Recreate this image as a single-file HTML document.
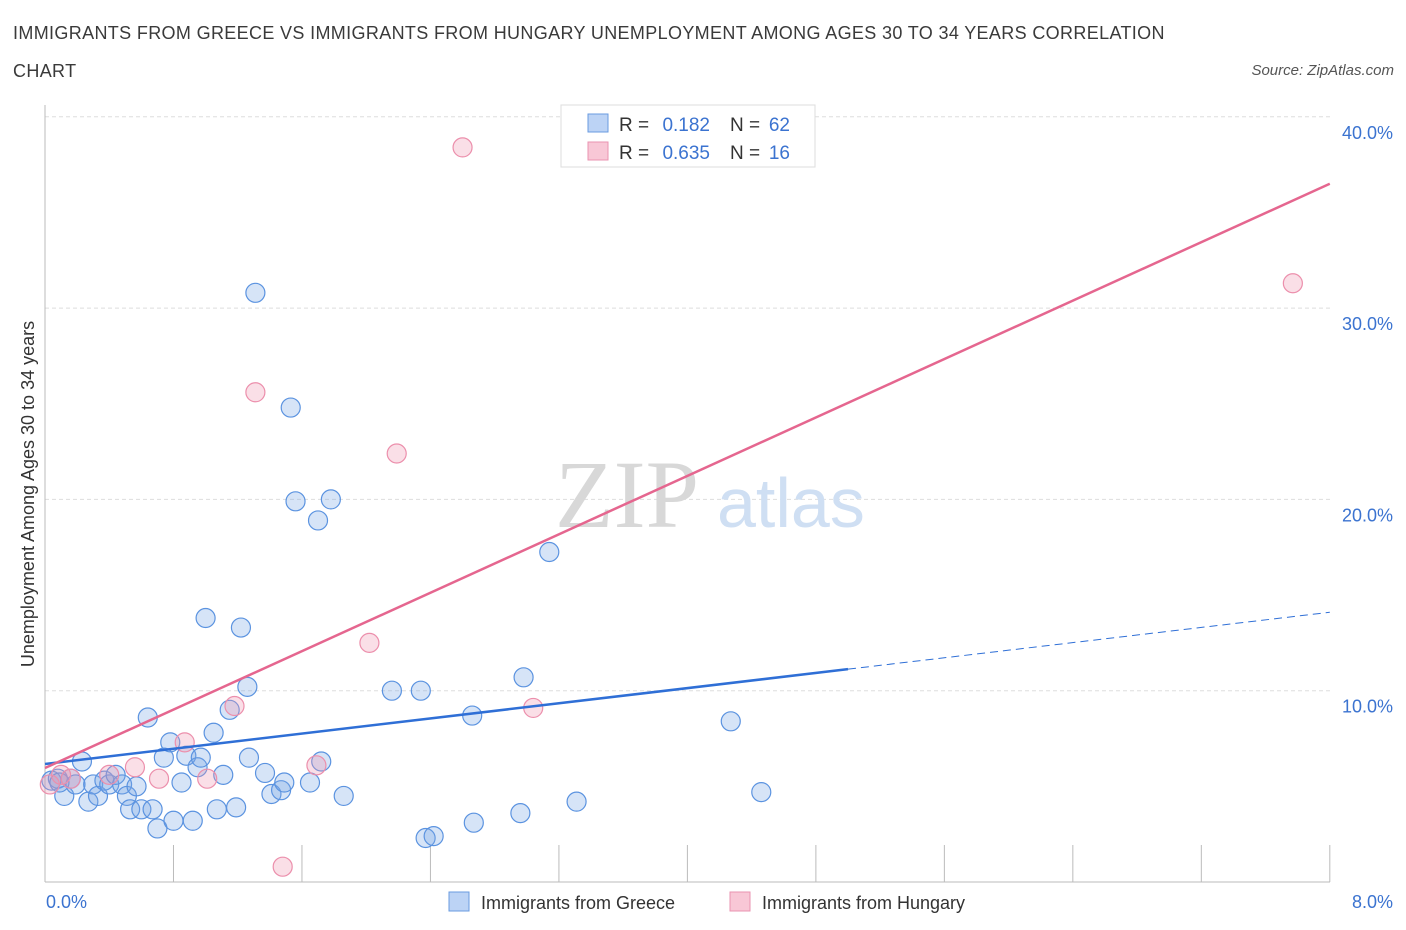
<!DOCTYPE html>
<html><head><meta charset="utf-8"><style>
body{margin:0;background:#fff;font-family:"Liberation Sans",sans-serif}
#wrap{position:relative;width:1406px;height:930px}
.t{position:absolute;color:#333}
</style></head><body>
<div id="wrap">
<div class="t" style="left:13px;top:14px;font-size:18px;line-height:38px;color:#3a3a3a;letter-spacing:0.35px">IMMIGRANTS FROM GREECE VS IMMIGRANTS FROM HUNGARY UNEMPLOYMENT AMONG AGES 30 TO 34 YEARS CORRELATION<br>CHART</div>
<div class="t" style="right:12px;top:62px;font-size:15px;font-style:italic;color:#555">Source: ZipAtlas.com</div>
<svg id="svg" width="1406" height="930" style="position:absolute;left:0;top:0"></svg>
</div>
<script>
const blueX=[0.04,0.08,0.12,0.16,0.19,0.23,0.27,0.3,0.33,0.37,0.4,0.44,0.48,0.51,0.53,0.57,0.6,0.64,0.67,0.7,0.74,0.78,0.8,0.85,0.88,0.92,0.95,0.97,1.0,1.05,1.07,1.11,1.15,1.19,1.22,1.26,1.27,1.31,1.37,1.41,1.47,1.49,1.53,1.56,1.65,1.7,1.72,1.78,1.86,2.16,2.34,2.37,2.42,2.66,2.67,2.96,2.98,3.14,3.31,4.27,4.46,0.09];
const blueY=[5.3,5.4,4.5,5.4,5.1,6.3,4.2,5.1,4.5,5.3,5.1,5.6,5.1,4.5,3.8,5.0,3.8,8.6,3.8,2.8,6.5,7.3,3.2,5.2,6.6,3.2,6.0,6.5,13.8,7.8,3.8,5.6,9.0,3.9,13.3,10.2,6.5,30.8,5.7,4.6,4.8,5.2,24.8,19.9,5.2,18.9,6.3,20.0,4.5,10.0,10.0,2.3,2.4,8.7,3.1,3.6,10.7,17.25,4.2,8.4,4.7,5.2];
const pinkX=[0.03,0.1,0.16,0.4,0.56,0.71,0.87,1.01,1.18,1.31,1.48,1.69,2.02,2.19,2.6,3.04,7.77];
const pinkY=[5.1,5.6,5.4,5.6,6.0,5.4,7.3,5.4,9.2,25.6,0.8,6.1,12.5,22.4,38.4,9.1,31.3];
const xTicks=[0,0.8,1.6,2.4,3.2,4.0,4.8,5.6,6.4,7.2,8.0];
const yTicks=[10,20,30,40];
const blueTrend=[6.17,14.1], pinkTrend=[5.96,36.5], blueSolidEnd=5.0;
const X=v=>45+v*160.6, Y=v=>882-v*19.13;
const svg=document.getElementById('svg'),NS='http://www.w3.org/2000/svg';
function mk(tag,a,name){const e=document.createElementNS(NS,tag);for(const k in a)e.setAttribute(k,a[k]);


svg.appendChild(e);return e;}
yTicks.forEach(v=>{mk('line',{x1:45,x2:1330,y1:Y(v),y2:Y(v),stroke:'#ddd','stroke-dasharray':'4,3'},'gridline');
const t=mk('text',{x:1393,y:Y(v)+22,'text-anchor':'end','font-size':18,fill:'#3b73d0'},'y-tick-label');t.textContent=v.toFixed(1)+'%';});
mk('line',{x1:45,x2:45,y1:105,y2:882,stroke:'#bbb'},'y-axis');
mk('line',{x1:45,x2:1330,y1:882,y2:882,stroke:'#bbb'},'x-axis');
xTicks.forEach(v=>mk('line',{x1:X(v),x2:X(v),y1:845,y2:882,stroke:'#bbb'},'x-tick'));
let t=mk('text',{x:46,y:908,'font-size':18,fill:'#3b73d0'},'x-min-label');t.textContent='0.0%';
t=mk('text',{x:1393,y:908,'text-anchor':'end','font-size':18,fill:'#3b73d0'},'x-max-label');t.textContent='8.0%';
t=mk('text',{x:0,y:0,'font-size':18,fill:'#333',transform:'translate(34,494) rotate(-90)','text-anchor':'middle'},'y-axis-title');t.textContent='Unemployment Among Ages 30 to 34 years';
t=mk('text',{x:555,y:527,'font-size':96,fill:'#d8d8d8','font-family':'Liberation Serif'},'watermark-zip');t.textContent='ZIP';
t=mk('text',{x:717,y:527,'font-size':70,fill:'#cfdff3'},'watermark-atlas');t.textContent='atlas';
blueX.forEach((x,i)=>mk('circle',{cx:X(x),cy:Y(blueY[i]),r:9.5,fill:'rgba(120,165,230,0.3)',stroke:'#5b93e0','stroke-width':1.2},'greece-point'));
pinkX.forEach((x,i)=>mk('circle',{cx:X(x),cy:Y(pinkY[i]),r:9.5,fill:'rgba(240,150,175,0.3)',stroke:'#ec8fac','stroke-width':1.2},'hungary-point'));
const bAt=v=>blueTrend[0]+(blueTrend[1]-blueTrend[0])*v/8;
mk('line',{x1:X(0),y1:Y(bAt(0)),x2:X(blueSolidEnd),y2:Y(bAt(blueSolidEnd)),stroke:'#2f6fd6','stroke-width':2.5},'greece-trendline');
mk('line',{x1:X(blueSolidEnd),y1:Y(bAt(blueSolidEnd)),x2:X(8),y2:Y(bAt(8)),stroke:'#2f6fd6','stroke-width':1,'stroke-dasharray':'8,5'},'greece-trendline-extension');
mk('line',{x1:X(0),y1:Y(pinkTrend[0]),x2:X(8),y2:Y(pinkTrend[1]),stroke:'#e5668f','stroke-width':2.5},'hungary-trendline');
mk('rect',{x:561,y:105,width:254,height:62,fill:'#fff',stroke:'#ddd'},'stats-legend');
mk('rect',{x:588,y:114,width:20,height:18,fill:'#bcd3f5',stroke:'#6a9be0'},'greece-swatch');
mk('rect',{x:588,y:142,width:20,height:18,fill:'#f8c7d6',stroke:'#ea93b0'},'hungary-swatch');
[[131,'0.182','62'],[159,'0.635','16']].forEach(r=>{
let e=mk('text',{x:619,y:r[0],'font-size':19,fill:'#333'},'stat-r-label');e.textContent='R = ';
e=mk('text',{x:710,y:r[0],'font-size':19,fill:'#3b73d0','text-anchor':'end'},'stat-r-value');e.textContent=r[1];
e=mk('text',{x:730,y:r[0],'font-size':19,fill:'#333'},'stat-n-label');e.textContent='N = ';
e=mk('text',{x:790,y:r[0],'font-size':19,fill:'#3b73d0','text-anchor':'end'},'stat-n-value');e.textContent=r[2];});
mk('rect',{x:449,y:892,width:20,height:19,fill:'#bcd3f5',stroke:'#6a9be0'},'legend-greece-swatch');
t=mk('text',{x:481,y:909,'font-size':18,fill:'#333'},'legend-greece-label');t.textContent='Immigrants from Greece';
mk('rect',{x:730,y:892,width:20,height:19,fill:'#f8c7d6',stroke:'#ea93b0'},'legend-hungary-swatch');
t=mk('text',{x:762,y:909,'font-size':18,fill:'#333'},'legend-hungary-label');t.textContent='Immigrants from Hungary';
</script>
</body></html>
